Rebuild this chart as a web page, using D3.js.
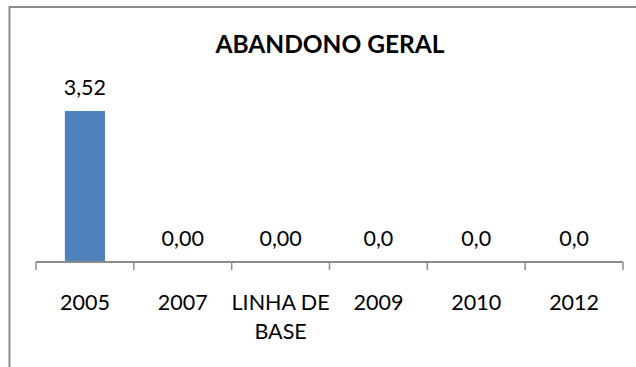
<!DOCTYPE html>
<html>
<head>
<meta charset="utf-8">
<script src="https://cdn.jsdelivr.net/npm/d3@7"></script>
<style>
  html, body { margin: 0; padding: 0; background: #fff; }
  svg { display: block; }
</style>
</head>
<body>
<script>
// Chart data
const title = "ABANDONO GERAL";
const categories = ["2005", "2007", "LINHA DE BASE", "2009", "2010", "2012"];
const categoryLines = [["2005"], ["2007"], ["LINHA DE", "BASE"], ["2009"], ["2010"], ["2012"]];
const values = [3.52, 0.00, 0.00, 0.0, 0.0, 0.0];
const valueLabels = ["3,52", "0,00", "0,00", "0,0", "0,0", "0,0"];
const yDomain = [0, 4];

const W = 636, H = 367;
const font = "Lato, 'Open Sans', sans-serif";

const svg = d3.select("body").append("svg")
  .attr("width", W).attr("height", H);

svg.append("rect").attr("width", W).attr("height", H).attr("fill", "#fff");

// Chart frame (runs past the right and bottom edges)
svg.append("rect")
  .attr("x", 9.5).attr("y", 7)
  .attr("width", W + 20).attr("height", H + 20)
  .attr("fill", "none")
  .attr("stroke", "#8c8c8c")
  .attr("stroke-width", 2);

const plot = { left: 36, right: 623, top: 90.4, bottom: 262 };

const x = d3.scaleBand()
  .domain(categories)
  .range([plot.left, plot.right])
  .paddingInner(0.59)
  .paddingOuter(0.295);

const y = d3.scaleLinear().domain(yDomain).range([plot.bottom, plot.top]);

// Title
svg.append("text")
  .attr("x", 330).attr("y", 53)
  .attr("text-anchor", "middle")
  .attr("font-family", font)
  .attr("font-weight", "bold")
  .attr("font-size", 24.5)
  .attr("fill", "#000")
  .text(title);

// Bars
svg.append("g").selectAll("rect")
  .data(values)
  .join("rect")
  .attr("x", (d, i) => x(categories[i]))
  .attr("width", x.bandwidth())
  .attr("y", d => y(d))
  .attr("height", d => y(0) - y(d))
  .attr("fill", "#4f81bd");

// Value labels
svg.append("g").selectAll("text")
  .data(values)
  .join("text")
  .attr("x", (d, i) => x(categories[i]) + x.bandwidth() / 2)
  .attr("y", d => y(d) - 16)
  .attr("text-anchor", "middle")
  .attr("font-family", font)
  .attr("font-size", 21.5)
  .attr("fill", "#000")
  .text((d, i) => valueLabels[i]);

// Category axis
const axis = d3.axisBottom(x).tickSize(0).tickFormat("");
const gAxis = svg.append("g")
  .attr("transform", `translate(0,${plot.bottom})`)
  .call(axis);
gAxis.select(".domain")
  .attr("stroke", "#8c8c8c")
  .attr("stroke-width", 2)
  .attr("d", `M${plot.left},0H${plot.right}`);

// Tick marks at category boundaries
const boundaries = d3.range(categories.length + 1).map(i => plot.left + i * (plot.right - plot.left) / categories.length);
gAxis.selectAll(".bound")
  .data(boundaries)
  .join("line")
  .attr("class", "bound")
  .attr("x1", d => d).attr("x2", d => d)
  .attr("y1", 0).attr("y2", 8)
  .attr("stroke", "#8c8c8c")
  .attr("stroke-width", 1.5);

// Category labels (wrapped)
const labels = gAxis.selectAll(".cat")
  .data(categories)
  .join("text")
  .attr("class", "cat")
  .attr("x", d => x(d) + x.bandwidth() / 2)
  .attr("y", 47.5)
  .attr("text-anchor", "middle")
  .attr("font-family", font)
  .attr("font-size", 21.5)
  .attr("fill", "#000");
labels.each(function(d, i) {
  d3.select(this).selectAll("tspan")
    .data(categoryLines[i])
    .join("tspan")
    .attr("x", x(d) + x.bandwidth() / 2)
    .attr("dy", (t, j) => j === 0 ? 0 : 29)
    .text(t => t);
});
</script>
</body>
</html>
